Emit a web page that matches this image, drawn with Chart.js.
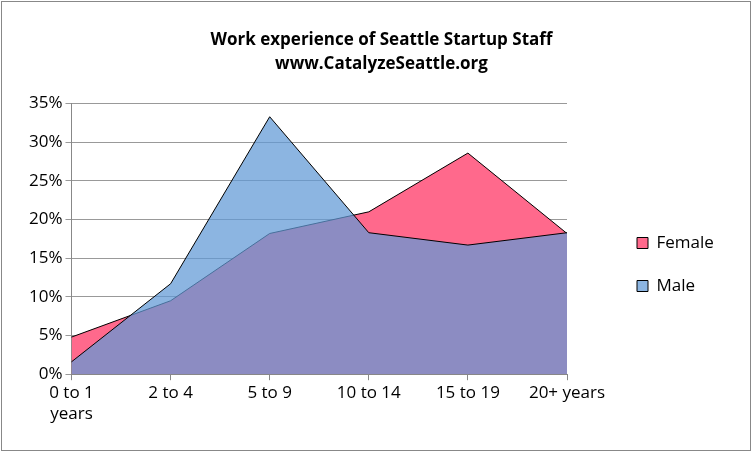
<!DOCTYPE html>
<html><head><meta charset="utf-8">
<script src="https://cdn.jsdelivr.net/npm/chart.js@4"></script>
<style>
html,body{margin:0;padding:0;background:#fff;}
#wrap{position:absolute;left:1px;top:1px;width:748px;height:448px;border:1px solid #888;}
</style></head><body>
<div id="wrap"><canvas id="c" width="748" height="448"></canvas></div>
<script>
const categories = [["0 to 1","years"],"2 to 4","5 to 9","10 to 14","15 to 19","20+ years"];
const female = [4.8, 9.5, 18.2, 21.0, 28.6, 18.2];
const male = [1.6, 11.7, 33.3, 18.3, 16.7, 18.3];
const titleLines = ["Work experience of Seattle Startup Staff","www.CatalyzeSeattle.org"];
const font = "'Open Sans', 'Liberation Sans', sans-serif";
const legendWidth = {id:'legendWidth',
  afterInit(chart){const l=chart.legend; const f=l.fit.bind(l); l.fit=function(){f(); this.width=170;};},
  afterLayout(chart){const l=chart.legend; l.left+=44; l.right+=44; l.top+=41; l.bottom+=41;}
};
new Chart(document.getElementById('c'), {
  type: 'line',
  plugins:[legendWidth],
  data: { labels: categories, datasets: [
    {label:'Female', data: female, fill:'origin', backgroundColor:'rgb(255,105,140)', borderColor:'#000', borderWidth:1, pointRadius:0, tension:0, order:2},
    {label:'Male', data: male, fill:'origin', backgroundColor:'rgba(98,153,214,0.73)', borderColor:'#000', borderWidth:1, pointRadius:0, tension:0, order:1}
  ]},
  options: {
    responsive:false, animation:false,
    layout:{padding:{left:24,right:13,top:18,bottom:23}},
    plugins:{
      title:{display:true, text:titleLines, color:'#000', font:{family:font, size:17, weight:'bold', lineHeight:1.4}, padding:{top:8,bottom:28}},
      legend:{position:'right', labels:{boxWidth:11, boxHeight:11, color:'#000', font:{family:font, size:17}, padding:26, generateLabels(ch){return ch.data.datasets.map((d,i)=>({text:d.label, fillStyle:d.backgroundColor, strokeStyle:'#000', lineWidth:1, datasetIndex:i}));}}},
      tooltip:{enabled:false}
    },
    scales:{
      x:{offset:false, grid:{display:true, drawOnChartArea:false, color:'#888', tickLength:6}, border:{color:'#888'}, ticks:{color:'#000', font:{family:font, size:17}, maxRotation:0, autoSkip:false}},
      y:{min:0, max:35, grid:{color:'#999', tickLength:6}, border:{color:'#888'}, ticks:{stepSize:5, color:'#000', font:{family:font, size:17}, callback:v=>v+'%'}}
    }
  }
});
</script></body></html>
